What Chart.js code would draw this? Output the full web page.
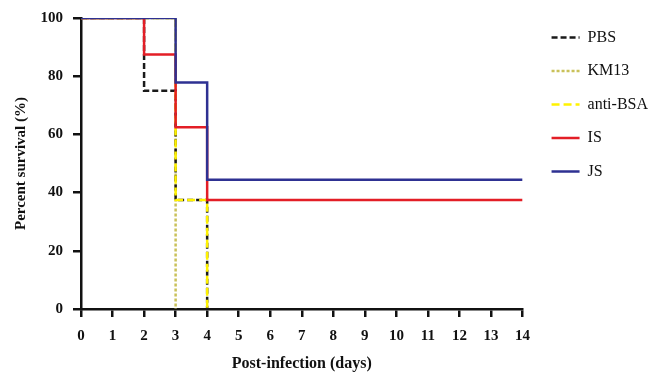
<!DOCTYPE html>
<html>
<head>
<meta charset="utf-8">
<script src="https://cdn.jsdelivr.net/npm/chart.js@4/dist/chart.umd.min.js"></script>
<style>
  html, body { margin: 0; padding: 0; background: #fff; }
  #wrap { width: 651px; height: 373px; }
</style>
</head>
<body>
<div id="wrap"><canvas id="survivalChart" width="651" height="373"></canvas></div>
<script>
// survival curves, x = day of drop, y = % surviving after the drop
const days = [0, 1, 2, 3, 4, 5, 6, 7, 8, 9, 10, 11, 12, 13, 14];
const seriesNames = ["PBS", "KM13", "anti-BSA", "IS", "JS"];

const pbsX = [0, 2, 3, 4];
const pbsY = [100, 75, 37.5, 0];
const km13X = [0, 3];
const km13Y = [100, 0];
const antiBsaX = [0, 3, 4];
const antiBsaY = [100, 37.5, 0];
const isX = [0, 2, 3, 4, 14];
const isY = [100, 87.5, 62.5, 37.5, 37.5];
const jsX = [0, 3, 4, 14];
const jsY = [100, 77.8, 44.4, 44.4];

const toPoints = (xs, ys) => xs.map((x, i) => ({ x: x, y: ys[i] }));

const serif = "'Liberation Serif', 'Times New Roman', serif";

// order: higher number is drawn underneath
const makeSet = (label, xs, ys, color, dash, order) => ({
  label: label,
  data: toPoints(xs, ys),
  borderColor: color,
  backgroundColor: color,
  borderWidth: 2.5,
  borderDash: dash,
  stepped: true,
  pointRadius: 0,
  fill: false,
  order: order,
});

// legend lines keep the dataset dash (point style labels drop it otherwise)
const legendLabels = (chart) => {
  const items = Chart.defaults.plugins.legend.labels.generateLabels(chart);
  items.forEach((item) => {
    const ds = chart.data.datasets[item.datasetIndex];
    item.lineDash = ds.borderDash;
    item.lineWidth = 2.5;
    item.strokeStyle = ds.borderColor;
  });
  return items.sort((a, b) => a.datasetIndex - b.datasetIndex);
};

const ctx = document.getElementById("survivalChart");
new Chart(ctx, {
  type: "line",
  data: {
    datasets: [
      makeSet(seriesNames[0], pbsX, pbsY, "#1a1a1a", [6, 3], 3),
      makeSet(seriesNames[1], km13X, km13Y, "#c9c15a", [3, 2], 4),
      makeSet(seriesNames[2], antiBsaX, antiBsaY, "#fff200", [8, 4], 2),
      makeSet(seriesNames[3], isX, isY, "#e31e26", [], 1),
      makeSet(seriesNames[4], jsX, jsY, "#2e3192", [], 0),
    ],
  },
  options: {
    responsive: false,
    animation: false,
    layout: { padding: { top: 12, right: -7, left: 0, bottom: 0 } },
    plugins: {
      legend: {
        position: "right",
        align: "start",
        maxWidth: 160,
        labels: {
          usePointStyle: true,
          pointStyle: "line",
          pointStyleWidth: 28,
          boxHeight: 10,
          padding: 17.5,
          color: "#111",
          font: { family: serif, size: 16 },
          generateLabels: legendLabels,
        },
      },
      tooltip: { enabled: false },
    },
    scales: {
      x: {
        type: "linear",
        min: 0,
        max: 14,
        afterBuildTicks: (scale) => { scale.ticks = days.map((d) => ({ value: d })); },
        afterFit: (scale) => { scale.height = 64; },
        border: { color: "#111", width: 2.5 },
        grid: { drawOnChartArea: false, drawTicks: true, tickLength: 8, color: "#111", lineWidth: 2.5 },
        ticks: { color: "#111", padding: 10, font: { family: serif, size: 15, weight: "bold" } },
        title: {
          display: true,
          text: "Post-infection (days)",
          color: "#111",
          padding: { top: 0, bottom: 0 },
          font: { family: serif, size: 16, weight: "bold" },
        },
      },
      y: {
        type: "linear",
        min: 0,
        max: 100,
        afterFit: (scale) => { scale.width = 81; scale.paddingTop = 18; },
        border: { color: "#111", width: 2.5 },
        grid: { drawOnChartArea: false, drawTicks: true, tickLength: 8, color: "#111", lineWidth: 2.5 },
        ticks: { stepSize: 20, color: "#111", padding: 10, font: { family: serif, size: 15, weight: "bold" } },
        title: {
          display: true,
          text: "Percent survival (%)",
          color: "#111",
          padding: { top: 12, bottom: 0 },
          font: { family: serif, size: 15, weight: "bold" },
        },
      },
      // empty spacer between plot and legend
      gap: {
        position: "right",
        display: true,
        grid: { display: false },
        border: { display: false },
        ticks: { display: false },
        afterFit: (scale) => { scale.width = 11.5; },
      },
    },
  },
});
</script>
</body>
</html>
